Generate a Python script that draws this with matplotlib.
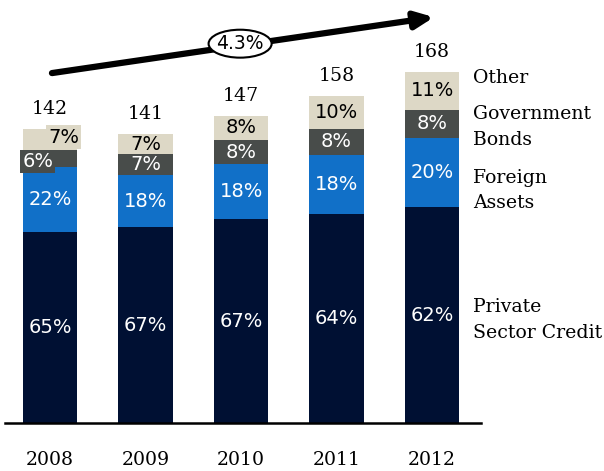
import matplotlib
matplotlib.use("Agg")
import matplotlib.pyplot as plt
import numpy as np
from matplotlib.patches import Ellipse
from matplotlib import font_manager

# Data
years = ['2008', '2009', '2010', '2011', '2012']
totals = [142, 141, 147, 158, 168]
private_credit = [65, 67, 67, 64, 62]
foreign_assets = [22, 18, 18, 18, 20]
gov_bonds = [6, 7, 8, 8, 8]
other = [7, 7, 8, 10, 11]
cagr_label = '4.3%'

segments = [private_credit, foreign_assets, gov_bonds, other]
colors = ['#001033', '#1170c8', '#484c4a', '#ddd8c6']
text_colors = ['white', 'white', 'white', 'black']

names = {f.name for f in font_manager.fontManager.ttflist}
cond = 'DejaVu Serif Condensed' in names
print('condensed available:', cond)
serif = 'DejaVu Serif Condensed' if cond else 'DejaVu Serif'
sans = 'DejaVu Sans'
lab_fs = 15 if cond else 13.6

fig = plt.figure(figsize=(6.04, 4.71), dpi=100)
ax = fig.add_axes([0, 0, 1, 1])
ax.set_xlim(-0.524, 5.80)
ax.set_ylim(-23.2, 204.3)
ax.axis('off')

x = np.arange(len(years))
width = 0.57
totals_arr = np.array(totals, dtype=float)
bottom = np.zeros(len(years))

for k, seg in enumerate(segments):
    h = totals_arr * np.array(seg) / 100.0
    ax.bar(x, h, width, bottom=bottom, color=colors[k], zorder=2)
    for i in range(len(years)):
        cy = bottom[i] + h[i] / 2
        if i == 0 and k >= 2:
            # the 2008 small segments have their labels pushed sideways
            dx = -0.13 if k == 2 else 0.14
            dy = -1.5 if k == 2 else 1.0
            ax.text(x[i] + dx, cy + dy, f'{seg[i]}%', ha='center', va='center',
                    fontsize=14, family=sans, color=text_colors[k], zorder=4,
                    bbox=dict(boxstyle='square,pad=0.12', fc=colors[k], ec='none'))
        else:
            ax.text(x[i], cy, f'{seg[i]}%', ha='center', va='center',
                    fontsize=14, family=sans, color=text_colors[k], zorder=3)
    bottom += h

# totals above bars
for i in range(len(years)):
    ax.text(x[i], bottom[i] + 9.5, str(totals[i]), ha='center', va='center',
            fontsize=lab_fs, family=serif, color='black')

# baseline
ax.plot([-0.47, 4.51], [0, 0], color='black', lw=1.8, zorder=3)

# year labels
for i, yr in enumerate(years):
    ax.text(x[i], -18, yr, ha='center', va='center', fontsize=lab_fs,
            family=serif, color='black')

# growth arrow
ax.annotate('', xy=(4.02, 196), xytext=(0.02, 169),
            arrowprops=dict(arrowstyle='-|>,head_length=1.1,head_width=0.5',
                            lw=4.5, color='black', shrinkA=0, shrinkB=0))
ax.add_patch(Ellipse((1.99, 183.2), 0.66, 13.5, fc='white', ec='black',
                     lw=1.5, zorder=5))
ax.text(1.99, 183.2, cagr_label, ha='center', va='center', fontsize=13.5,
        family=sans, zorder=6)

# series labels on the right
lx = 4.43
right_labels = [('Other', 166.5), ('Government', 149.3), ('Bonds', 136.8),
                ('Foreign', 118.2), ('Assets', 106.2), ('Private', 56.0),
                ('Sector Credit', 43.5)]
for txt, yy in right_labels:
    ax.text(lx, yy, txt, ha='left', va='center', fontsize=lab_fs, family=serif)

fig.savefig('out.png', dpi=100)
